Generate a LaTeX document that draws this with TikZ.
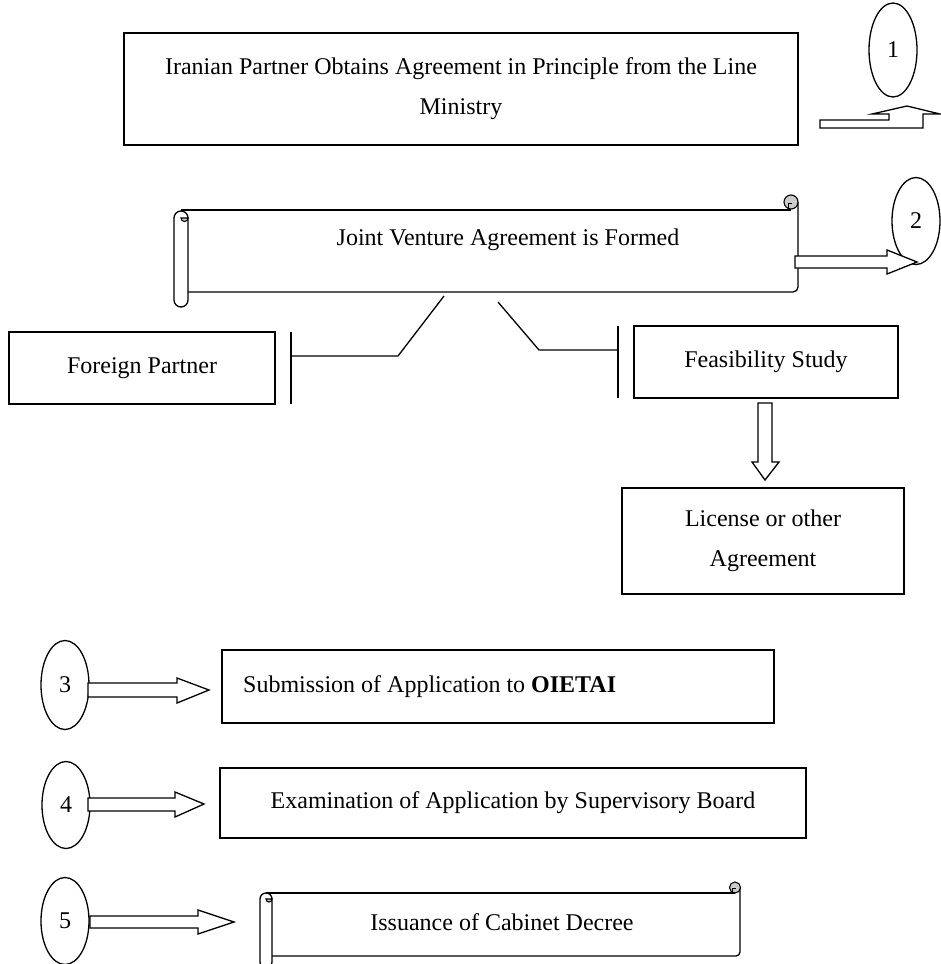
\documentclass[tikz,border=0pt]{standalone}
\usepackage{fontspec}
\setmainfont{Liberation Serif}
\usetikzlibrary{shapes.geometric}
\begin{document}
\begin{tikzpicture}[x=1pt,y=-1pt,
  lw/.style={line width=1.3pt},
  txt/.style={font=\fontsize{24}{40}\selectfont, inner sep=0pt, align=center},
  boxnode/.style={draw, line width=1.3pt, rectangle, inner sep=0pt,
    font=\fontsize{24}{40}\selectfont, align=center},
  numoval/.style={draw, line width=1.3pt, ellipse, inner sep=0pt,
    minimum width=48pt, minimum height=87pt, font=\fontsize{24}{28}\selectfont},
  blockarrow/.style={draw, fill=white, line width=1.3pt, line join=miter},
  curl/.style={draw, fill=gray!40, line width=1.1pt}]
\useasboundingbox (0,0) rectangle (941,964);

% ---- step 1 ----
\node[boxnode, minimum width=674pt, minimum height=112pt] (principle) at (461,89)
  {Iranian Partner Obtains Agreement in Principle from the Line\\Ministry};
\node[numoval, minimum height=94pt] (n1) at (893,50) {1};
\draw[blockarrow] (820,120) -- (889,120) -- (889,114) -- (872,114) -- (907,106)
  -- (940,114) -- (923,114) -- (923,128) -- (820,128) -- cycle;

% ---- joint venture scroll ----
\node[txt] (jv) at (508,240) {Joint Venture Agreement is Formed};
\draw[lw] (181,210) -- (791,210);
\draw[lw, rounded corners=5pt] (188,292) -- (798,292) -- (798,202);
\draw[lw, fill=white, rounded corners=7pt] (174,211) rectangle (188,307);
\draw[curl] (181,218) arc[start angle=180, end angle=0, radius=3.5] -- cycle;
\draw[curl] (791,202) circle[radius=7];
\draw[line width=1pt] (788,209) -- (788,203) -- (792,203);

\node[numoval] (n2) at (916,221) {2};
\draw[blockarrow] (795,256) -- (887,256) -- (887,250) -- (917,262) -- (887,274)
  -- (887,268) -- (795,268) -- cycle;

% ---- partners and study ----
\node[boxnode, minimum width=266pt, minimum height=72pt] (foreign) at (142,368)
  {Foreign Partner};
\node[boxnode, minimum width=264pt, minimum height=72pt] (study) at (766,362)
  {Feasibility Study};
\node[boxnode, minimum width=282pt, minimum height=106pt] (license) at (763,541)
  {License or other\\Agreement};

\coordinate (jvL) at (444,296);
\coordinate (kneeL) at (398,356);
\coordinate (barL) at (291,356);
\coordinate (jvR) at (498,302);
\coordinate (kneeR) at (539,350);
\coordinate (barR) at (618,350);
\draw[lw] (jvL) -- (kneeL) -- (barL);
\draw[lw] (291,332) -- (291,404);
\draw[lw] (jvR) -- (kneeR) -- (barR);
\draw[lw] (618,326) -- (618,398);

\draw[blockarrow] (758,403) -- (772,403) -- (772,462) -- (779,462) -- (765,480)
  -- (752,462) -- (758,462) -- cycle;

% ---- step 3 ----
\node[numoval, minimum height=89pt] (n3) at (65,685) {3};
\draw[blockarrow] (88,683) -- (177,683) -- (177,678) -- (209,690) -- (177,703)
  -- (177,697) -- (88,697) -- cycle;
\node[boxnode, minimum width=552pt, minimum height=73pt] (submit) at (498,686.5) {};
\node[txt, anchor=west] (submittxt) at (243,687)
  {Submission of Application to \textbf{OIETAI}};

% ---- step 4 ----
\node[numoval] (n4) at (66,805) {4};
\draw[blockarrow] (88,798) -- (175,798) -- (175,792) -- (204,804) -- (175,817)
  -- (175,811) -- (88,811) -- cycle;
\node[boxnode, minimum width=586pt, minimum height=70pt] (board) at (513,803)
  {Examination of Application by Supervisory Board};

% ---- step 5 ----
\node[numoval] (n5) at (65,921) {5};
\draw[blockarrow] (90,916) -- (198,916) -- (198,910) -- (234,922) -- (198,934)
  -- (198,928) -- (90,928) -- cycle;
\node[txt] (decree) at (502,922) {Issuance of Cabinet Decree};
\draw[lw] (266,893) -- (735,893);
\draw[lw, rounded corners=4pt] (272,956) -- (740,956) -- (740,888);
\draw[lw, fill=white, rounded corners=6pt] (260,893) rectangle (272,968);
\draw[curl] (266,899) arc[start angle=180, end angle=0, radius=3] -- cycle;
\draw[curl] (735,887.5) circle[radius=5.5];
\draw[line width=1pt] (732,893) -- (732,888) -- (736,888);
\end{tikzpicture}
\end{document}
